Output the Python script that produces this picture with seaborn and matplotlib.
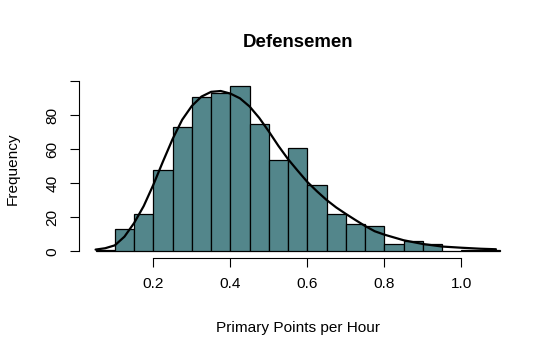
import numpy as np
import pandas as pd
import matplotlib
matplotlib.use('Agg')
import matplotlib.pyplot as plt
import seaborn as sns

# Histogram bins (width 0.05) and counts
bin_edges = [0.05, 0.10, 0.15, 0.20, 0.25, 0.30, 0.35, 0.40, 0.45, 0.50, 0.55,
             0.60, 0.65, 0.70, 0.75, 0.80, 0.85, 0.90, 0.95, 1.00, 1.05, 1.10]
counts = [1, 13, 22, 48, 73, 91, 93, 97, 75, 54, 61,
          39, 22, 16, 15, 4, 6, 4, 0, 1, 1]

# Fitted density curve (scaled to counts)
curve_x = [0.05, 0.075, 0.10, 0.125, 0.15, 0.175, 0.20, 0.225, 0.25, 0.275,
           0.30, 0.325, 0.35, 0.375, 0.40, 0.425, 0.45, 0.475, 0.50, 0.525,
           0.55, 0.575, 0.60, 0.625, 0.65, 0.675, 0.70, 0.725, 0.75, 0.775,
           0.80, 0.85, 0.90, 0.95, 1.00, 1.05, 1.09]
curve_y = [1.0, 1.8, 3.5, 8.6, 16.6, 26.6, 39.1, 52.8, 66.0, 77.4,
           85.5, 91.0, 93.8, 94.3, 92.8, 90.0, 85.2, 78.5, 70.5, 62.0,
           54.2, 47.4, 40.8, 35.3, 30.2, 25.8, 22.0, 18.4, 14.9, 11.8,
           9.8, 6.5, 4.3, 2.8, 2.1, 1.5, 1.2]

x_ticks = [0.2, 0.4, 0.6, 0.8, 1.0]
y_ticks = [0, 20, 40, 60, 80, 100]
y_tick_labels = ['0', '20', '40', '60', '80', '']

sns.set_theme(style='ticks')
plt.rcParams['font.family'] = ['Liberation Sans', 'DejaVu Sans']
plt.rcParams['text.color'] = 'black'
plt.rcParams['axes.labelcolor'] = 'black'

centers = [(a + b) / 2 for a, b in zip(bin_edges[:-1], bin_edges[1:])]
df = pd.DataFrame({'value': centers, 'count': counts})
curve = pd.DataFrame({'x': curve_x, 'y': curve_y})

fig = plt.figure(figsize=(5.58, 3.56), dpi=100)
ax = fig.add_axes([0.1423, 0.2756, 0.7824, 0.5002])

sns.histplot(data=df, x='value', weights='count', bins=bin_edges,
             color='#53868B', edgecolor='black', linewidth=0.9, alpha=1,
             ax=ax)
sns.lineplot(data=curve, x='x', y='y', color='black', linewidth=1.6, ax=ax)

ax.set_xlim(0.008, 1.142)
ax.set_ylim(-3.88, 100.88)

ax.set_xticks(x_ticks)
ax.set_xticklabels([f'{t:.1f}' for t in x_ticks])
ax.set_yticks(y_ticks)
ax.set_yticklabels(y_tick_labels, rotation=90, va='center')

for s in ['top', 'right']:
    ax.spines[s].set_visible(False)
ax.spines['left'].set_bounds(0, 100)
ax.spines['bottom'].set_bounds(0.2, 1.0)
for s in ['left', 'bottom']:
    ax.spines[s].set_linewidth(0.8)
    ax.spines[s].set_color('black')

ax.tick_params(axis='both', direction='out', length=6.5, width=0.8,
               color='black', labelcolor='black', labelsize=11.1)
ax.tick_params(axis='x', pad=7)
ax.tick_params(axis='y', pad=8)

ax.set_title('Defensemen', fontsize=13.4, fontweight='bold', pad=23.8,
             color='black')
ax.set_xlabel('Primary Points per Hour', fontsize=11.1, va='baseline')
ax.xaxis.set_label_coords(0.5, -0.416)
ax.set_ylabel('Frequency', fontsize=11.1)
ax.yaxis.set_label_coords(-0.136, 0.5)

fig.savefig('out.png', dpi=100, facecolor='white')
